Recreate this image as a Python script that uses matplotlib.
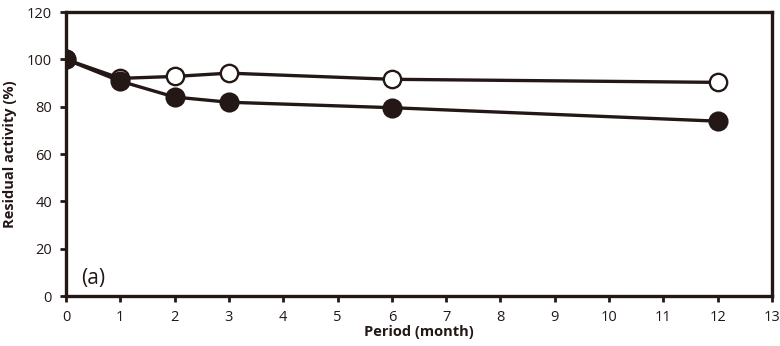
import matplotlib
matplotlib.use("Agg")
import matplotlib.pyplot as plt

# data
months_open = [0, 1, 2, 3, 6, 12]
activity_open = [100, 92, 92.8, 94.2, 91.6, 90.3]

months_filled = [0, 1, 2, 3, 6, 12]
activity_filled = [100, 90.8, 84.1, 81.9, 79.6, 73.9]

xticks = list(range(0, 14))
yticks = [0, 20, 40, 60, 80, 100, 120]

col = "#231815"
plt.rcParams["font.family"] = ["Open Sans", "DejaVu Sans"]

fig = plt.figure(figsize=(7.8, 3.46), dpi=100)
ax = fig.add_axes([0.0846, 0.1445, 0.9051, 0.8205])

ax.plot(months_filled, activity_filled, color=col, lw=2.4, marker="o",
        ms=13, mfc=col, mec=col, mew=1.5, zorder=3)
ax.plot(months_open, activity_open, color=col, lw=2.4, marker="o",
        ms=12.5, mfc="white", mec=col, mew=1.7, zorder=2)

ax.set_xlim(0, 13)
ax.set_ylim(0, 120)
ax.set_xticks(xticks)
ax.set_yticks(yticks)
ax.tick_params(direction="out", length=4, width=2, color=col,
               labelsize=10.5, labelcolor=col, pad=6)
for s in ax.spines.values():
    s.set_linewidth(2.4)
    s.set_color(col)
ax.set_xlabel("Period (month)", fontsize=10.5, fontweight="bold", color=col, labelpad=0)
ax.set_ylabel("Residual activity (%)", fontsize=10.5, fontweight="bold", color=col, labelpad=7)
ax.text(0.28, 5, "(a)", fontsize=15, color=col)

fig.savefig("out.png", dpi=100)
